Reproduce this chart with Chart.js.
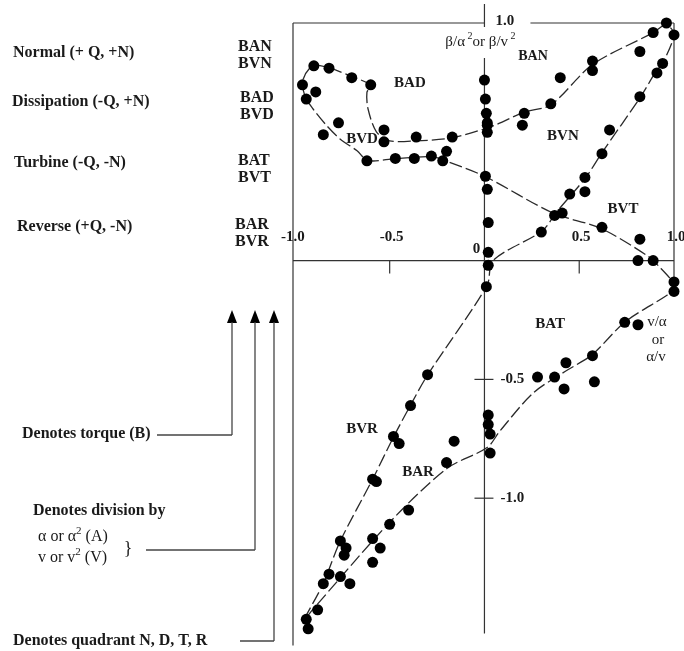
<!DOCTYPE html>
<html>
<head>
<meta charset="utf-8">
<script src="https://cdn.jsdelivr.net/npm/chart.js@4/dist/chart.umd.min.js"></script>
<style>
  html, body { margin: 0; padding: 0; background: #fff; }
  #wrap { width: 684px; height: 651px; position: relative; }
  canvas { display: block; }
</style>
</head>
<body>
<div id="wrap"><canvas id="chart" width="684" height="651"></canvas></div>
<script>
// Measured torque ratios: x = v/α or α/v, y = β/α² or β/v²
const measuredX = [
  0.96, 1.00, 0.89, 0.82, 0.57, 0.57, 0.40, 0.94, 0.91, 0.82, 0.35, 0.21, 0.20, 0.66, 0.62,
  0.53, 0.45, 0.53, 0.37, 0.41, 0.30, 0.62, 0.82, 0.81, 0.89,
  0.00, 0.005, 0.01, 0.015, 0.015, 0.015, 0.005, 0.015, 0.02, 0.02, 0.02,
  -0.90, -0.82, -0.70, -0.60, -0.96, -0.89, -0.94, -0.77, -0.85, -0.53, -0.53, -0.36, -0.17,
  -0.62, -0.47, -0.37, -0.28, -0.20, -0.22,
  0.01, 1.00, 1.00, 0.74, 0.81, 0.57, 0.43, 0.28, 0.37, 0.42, 0.58, -0.30, -0.39,
  0.02, 0.02, 0.03, 0.03, -0.16, -0.20, -0.48, -0.45, -0.59, -0.57, -0.40, -0.50,
  -0.59, -0.55, -0.59, -0.76, -0.73, -0.74, -0.82, -0.85, -0.76, -0.71, -0.88, -0.94, -0.93
];
const measuredY = [
  1.00, 0.95, 0.96, 0.88, 0.84, 0.80, 0.77, 0.83, 0.79, 0.69, 0.66, 0.62, 0.57, 0.55, 0.45,
  0.35, 0.28, 0.29, 0.19, 0.20, 0.12, 0.14, 0.09, 0.00, 0.00,
  0.76, 0.68, 0.62, 0.58, 0.57, 0.54, 0.355, 0.30, 0.16, 0.035, -0.02,
  0.82, 0.81, 0.77, 0.74, 0.74, 0.71, 0.68, 0.58, 0.53, 0.55, 0.50, 0.52, 0.52,
  0.42, 0.43, 0.43, 0.44, 0.46, 0.42,
  -0.11, -0.09, -0.13, -0.26, -0.27, -0.40, -0.43, -0.49, -0.49, -0.54, -0.51, -0.48, -0.61,
  -0.65, -0.69, -0.73, -0.81, -0.76, -0.85, -0.74, -0.77, -0.92, -0.93, -1.05, -1.11,
  -1.17, -1.21, -1.27, -1.18, -1.21, -1.24, -1.32, -1.36, -1.33, -1.36, -1.47, -1.51, -1.55
];

// Faired curve through the data: BAN → BAD → BVD → BVT → BAT → BAR → BVR → BVN
const curveX = [
  0.96, 0.89, 0.57, 0.35, 0.21, 0.045, -0.17, -0.36, -0.50, -0.57, -0.614, -0.62, -0.60,
  -0.70, -0.825, -0.904, -0.957, -0.947, -0.904, -0.831, -0.762, -0.672, -0.614,
  -0.472, -0.277, -0.197, 0.003, 0.362, 0.61, 0.858, 0.926, 0.995, 1.0,
  0.963, 0.742, 0.568, 0.425, 0.256, 0.082, 0.014, -0.198, -0.498, -0.904, -0.95,
  -0.852, -0.762, -0.588, -0.482, -0.387, -0.298, 0.014, 0.045, 0.304, 0.383, 0.531,
  0.62, 0.826, 0.905, 0.942, 1.0, 0.96
];
const curveY = [
  1.0, 0.96, 0.825, 0.655, 0.625, 0.567, 0.517, 0.504, 0.504, 0.542, 0.638, 0.708, 0.738,
  0.775, 0.812, 0.821, 0.762, 0.692, 0.638, 0.567, 0.512, 0.462, 0.421,
  0.429, 0.437, 0.417, 0.354, 0.2, 0.137, 0.021, -0.029, -0.092, -0.12,
  -0.146, -0.258, -0.396, -0.467, -0.558, -0.717, -0.787, -0.875, -1.1, -1.467, -1.51,
  -1.362, -1.183, -0.917, -0.746, -0.604, -0.479, -0.104, 0.0, 0.125, 0.207, 0.346,
  0.454, 0.692, 0.796, 0.833, 0.954, 1.0
];

const xTickValues = [-1.0, -0.5, 0, 0.5, 1.0];
const xTickLabels = ['-1.0', '-0.5', '0', '0.5', '1.0'];
const yTickValues = [1.0, -0.5, -1.0];
const yTickLabels = ['1.0', '-0.5', '-1.0'];

const quadrantNames = ['BAN', 'BAD', 'BVD', 'BVN', 'BVT', 'BAT', 'BVR', 'BAR'];

const INK = '#1a1a1a';
const SERIF = '"Liberation Serif", "DejaVu Serif", serif';

// where each curve name sits, in data units
const nameAnchors = {
  BAN: [0.256, 0.86], BAD: [-0.393, 0.746], BVD: [-0.646, 0.512], BVN: [0.414, 0.525],
  BVT: [0.731, 0.217], BAT: [0.346, -0.267], BVR: [-0.646, -0.708], BAR: [-0.35, -0.892]
};

function line(ctx, x1, y1, x2, y2) {
  ctx.beginPath();
  ctx.moveTo(x1, y1);
  ctx.lineTo(x2, y2);
  ctx.stroke();
}

function text(ctx, s, x, y, font, align) {
  ctx.font = font;
  ctx.textAlign = align || 'left';
  ctx.textBaseline = 'middle';
  ctx.fillText(s, x, y);
}

// draws runs of text where some runs are superscripts
function richText(ctx, runs, x, y, size, weight, align) {
  const base = weight + ' ' + size + 'px ' + SERIF;
  const sup = weight + ' ' + Math.round(size * 0.68) + 'px ' + SERIF;
  let total = 0;
  runs.forEach(r => { ctx.font = r.sup ? sup : base; total += ctx.measureText(r.t).width; });
  let cx = align === 'center' ? x - total / 2 : x;
  ctx.textAlign = 'left';
  ctx.textBaseline = 'middle';
  runs.forEach(r => {
    ctx.font = r.sup ? sup : base;
    ctx.fillText(r.t, cx, r.sup ? y - size * 0.38 : y);
    cx += ctx.measureText(r.t).width;
  });
}

function arrowUp(ctx, x, tipY) {
  ctx.beginPath();
  ctx.moveTo(x, tipY);
  ctx.lineTo(x - 5, tipY + 13);
  ctx.lineTo(x + 5, tipY + 13);
  ctx.closePath();
  ctx.fill();
}

const framePlugin = {
  id: 'frame',
  beforeDatasetsDraw(chart) {
    const ctx = chart.ctx;
    const xs = chart.scales.x, ys = chart.scales.y;
    const area = chart.chartArea;
    const X0 = xs.getPixelForValue(0);
    const Y0 = ys.getPixelForValue(0);
    const yTop = ys.getPixelForValue(1);
    const xRight = xs.getPixelForValue(1);

    ctx.save();
    ctx.strokeStyle = '#333';
    ctx.fillStyle = INK;
    ctx.lineWidth = 1.2;

    // frame
    line(ctx, area.left, yTop, X0, yTop);
    line(ctx, X0 + 46, yTop, xRight, yTop);
    line(ctx, xRight, yTop, xRight, ys.getPixelForValue(-0.14));
    line(ctx, area.left, yTop, area.left, area.bottom);

    // axes
    line(ctx, area.left, Y0, xRight, Y0);
    line(ctx, X0, yTop - 19, X0, yTop + 4);
    line(ctx, X0, yTop + 35, X0, ys.getPixelForValue(-1.57));

    // tick marks
    [-0.5, 0.5].forEach(v => {
      const px = xs.getPixelForValue(v);
      line(ctx, px, Y0, px, Y0 + 13);
    });
    [-0.5, -1.0].forEach(v => {
      const py = ys.getPixelForValue(v);
      line(ctx, X0 - 10, py, X0 + 9, py);
    });

    // tick labels
    const tickFont = 'bold 15px ' + SERIF;
    xTickValues.forEach((v, i) => {
      const px = xs.getPixelForValue(v);
      if (v === 0) {
        text(ctx, xTickLabels[i], px - 8, Y0 - 11, tickFont, 'center');
      } else {
        text(ctx, xTickLabels[i], px + (v === -1 ? -2 : 2), Y0 - 23, tickFont, 'center');
      }
    });
    yTickValues.forEach((v, i) => {
      const py = ys.getPixelForValue(v);
      if (v === 1) {
        text(ctx, yTickLabels[i], X0 + 11, py - 2, tickFont, 'left');
      } else {
        text(ctx, yTickLabels[i], X0 + 16, py, tickFont, 'left');
      }
    });

    // axis titles
    ctx.fillStyle = INK;
    richText(ctx, [{ t: 'β/α' }, { t: ' 2', sup: true }, { t: 'or β/v' }, { t: ' 2', sup: true }],
      X0 - 4, yTop + 19, 15, 'normal', 'center');
    const vx = xs.getPixelForValue(0.91);
    const titleFont = 'normal 15px ' + SERIF;
    text(ctx, 'v/α', vx, ys.getPixelForValue(-0.258), titleFont, 'center');
    text(ctx, 'or', vx + 1, ys.getPixelForValue(-0.333), titleFont, 'center');
    text(ctx, 'α/v', vx - 1, ys.getPixelForValue(-0.408), titleFont, 'center');

    // curve names
    quadrantNames.forEach(n => {
      const a = nameAnchors[n];
      text(ctx, n, xs.getPixelForValue(a[0]), ys.getPixelForValue(a[1]),
        (n === 'BAN' ? 'bold 14px ' : 'bold 15px ') + SERIF, 'center');
    });

    // key on the left
    const keyFont = 'bold 16px ' + SERIF;
    const modes = [
      ['Normal (+ Q, +N)', 13, 53, 'BAN', 'BVN', 238, 47],
      ['Dissipation (-Q, +N)', 12, 102, 'BAD', 'BVD', 240, 98],
      ['Turbine (-Q, -N)', 14, 163, 'BAT', 'BVT', 238, 161],
      ['Reverse (+Q, -N)', 17, 227, 'BAR', 'BVR', 235, 225]
    ];
    modes.forEach(m => {
      text(ctx, m[0], m[1], m[2], keyFont, 'left');
      text(ctx, m[3], m[5], m[6], keyFont, 'left');
      text(ctx, m[4], m[5], m[6] + 17, keyFont, 'left');
    });

    // naming legend with arrows
    ctx.strokeStyle = '#444';
    ctx.lineWidth = 1.3;
    ctx.fillStyle = '#000';
    const arrowTip = 310;
    arrowUp(ctx, 232, arrowTip);
    arrowUp(ctx, 255, arrowTip);
    arrowUp(ctx, 274, arrowTip);
    line(ctx, 232, arrowTip + 12, 232, 435);
    line(ctx, 157, 435, 232, 435);
    line(ctx, 255, arrowTip + 12, 255, 550);
    line(ctx, 146, 550, 255, 550);
    line(ctx, 274, arrowTip + 12, 274, 641);
    line(ctx, 240, 641, 274, 641);

    ctx.fillStyle = INK;
    text(ctx, 'Denotes torque (B)', 22, 434, keyFont, 'left');
    text(ctx, 'Denotes division by', 33, 511, keyFont, 'left');
    richText(ctx, [{ t: 'α or α' }, { t: '2', sup: true }, { t: ' (A)' }], 38, 537, 16, 'normal', 'left');
    richText(ctx, [{ t: 'v or v' }, { t: '2', sup: true }, { t: ' (V)' }], 38, 558, 16, 'normal', 'left');
    text(ctx, '}', 128, 549, 'normal 18px ' + SERIF, 'center');
    text(ctx, 'Denotes quadrant N, D, T, R', 13, 641, keyFont, 'left');

    ctx.restore();
  }
};

const measured = measuredX.map((x, i) => ({ x: x, y: measuredY[i] }));
const faired = curveX.map((x, i) => ({ x: x, y: curveY[i] }));

new Chart(document.getElementById('chart').getContext('2d'), {
  type: 'scatter',
  data: {
    datasets: [
      {
        label: 'measured',
        data: measured,
        showLine: false,
        pointRadius: 5.5,
        pointHoverRadius: 5.5,
        pointBackgroundColor: '#000',
        pointBorderColor: '#000',
        pointBorderWidth: 0,
        order: 0,
        clip: false
      },
      {
        label: 'faired curve',
        data: faired,
        showLine: true,
        pointRadius: 0,
        borderColor: '#2a2a2a',
        borderWidth: 1.3,
        borderDash: [13, 4],
        tension: 0.3,
        fill: false,
        order: 1,
        clip: false
      }
    ]
  },
  options: {
    responsive: false,
    animation: false,
    devicePixelRatio: 1,
    layout: { padding: { left: 293, right: 10, top: 23, bottom: 0 } },
    scales: {
      x: { type: 'linear', min: -1.01, max: 1.0, display: false },
      y: { type: 'linear', min: -1.62, max: 1.0, display: false }
    },
    plugins: {
      legend: { display: false },
      tooltip: { enabled: false }
    }
  },
  plugins: [framePlugin]
});
</script>
</body>
</html>
